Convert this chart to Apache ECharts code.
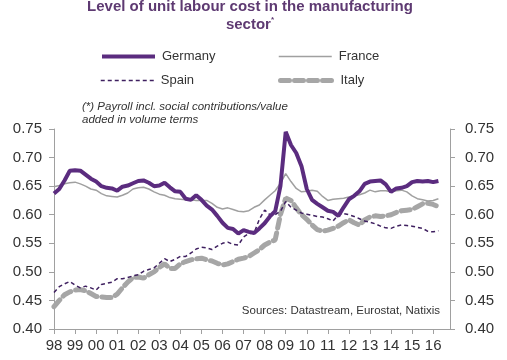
<!DOCTYPE html>
<html><head><meta charset="utf-8">
<script src="https://cdn.jsdelivr.net/npm/echarts@6/dist/echarts.min.js"></script>
<style>html,body{margin:0;padding:0;background:#fff}#c{width:507px;height:360px}</style>
</head><body><div id="c"></div>
<script>
// Quarterly observations, 1998Q1 .. 2016Q2 (decimal years)
const startYear = 1998;
const quarterCount = 74;
const quarters = [];
for (let i = 0; i < quarterCount; i++) quarters.push(startYear + i / 4);

const yearTicks = [1998,1999,2000,2001,2002,2003,2004,2005,2006,2007,2008,2009,2010,2011,2012,2013,2014,2015,2016];

const germany = [
0.637,0.645,0.660,0.677, 0.678,0.677,0.670,0.663, 0.658,0.650,0.647,0.646, 0.642,0.649,0.651,0.655,
0.659,0.660,0.656,0.650, 0.651,0.656,0.648,0.641, 0.640,0.628,0.626,0.634, 0.626,0.616,0.609,0.598,
0.586,0.577,0.575,0.567, 0.573,0.570,0.568,0.576, 0.585,0.597,0.606,0.650, 0.745,0.722,0.708,0.685,
0.645,0.626,0.619,0.613, 0.607,0.605,0.598,0.613, 0.627,0.633,0.641,0.654, 0.658,0.659,0.660,0.653,
0.640,0.646,0.647,0.650, 0.657,0.659,0.658,0.659, 0.657,0.659];
const france = [
0.649,0.651,0.654,0.656, 0.657,0.654,0.650,0.645, 0.643,0.637,0.633,0.632, 0.631,0.634,0.638,0.645,
0.647,0.648,0.645,0.640, 0.636,0.634,0.630,0.628, 0.627,0.626,0.626,0.625, 0.625,0.625,0.620,0.613,
0.610,0.612,0.609,0.606, 0.605,0.607,0.613,0.617, 0.626,0.634,0.642,0.655, 0.672,0.658,0.646,0.640,
0.641,0.643,0.641,0.632, 0.625,0.627,0.628,0.629, 0.631,0.633,0.635,0.638, 0.643,0.640,0.642,0.642,
0.640,0.642,0.643,0.640, 0.633,0.628,0.626,0.624, 0.625,0.628];
const spain = [
0.464,0.474,0.479,0.483, 0.477,0.472,0.475,0.472, 0.468,0.478,0.480,0.482, 0.488,0.488,0.490,0.493,
0.495,0.501,0.504,0.507, 0.515,0.523,0.518,0.522, 0.527,0.527,0.533,0.540, 0.543,0.542,0.539,0.545,
0.550,0.552,0.548,0.547, 0.561,0.567,0.568,0.592, 0.608,0.600,0.600,0.606, 0.623,0.613,0.608,0.603,
0.601,0.599,0.597,0.596, 0.593,0.589,0.600,0.602, 0.600,0.597,0.593,0.589, 0.587,0.584,0.580,0.577,
0.576,0.580,0.582,0.581, 0.580,0.578,0.576,0.571, 0.570,0.572];
const italy = [
0.439,0.450,0.460,0.465, 0.468,0.469,0.467,0.462, 0.457,0.456,0.455,0.455, 0.461,0.472,0.482,0.490,
0.491,0.489,0.495,0.500, 0.508,0.514,0.506,0.506, 0.514,0.518,0.521,0.523, 0.524,0.521,0.519,0.515,
0.512,0.514,0.518,0.522, 0.524,0.527,0.533,0.539, 0.547,0.552,0.556,0.600, 0.629,0.625,0.612,0.600,
0.592,0.582,0.574,0.571, 0.573,0.576,0.580,0.586, 0.591,0.586,0.582,0.591, 0.596,0.598,0.597,0.598,
0.600,0.604,0.607,0.608, 0.609,0.614,0.619,0.620, 0.618,0.614];

const pair = arr => arr.map((v, i) => [quarters[i], v]);
const FONT = 'Liberation Sans, Arial, sans-serif';

const C_GER = '#5b2c7f', C_FRA = '#a0a0a0', C_ESP = '#3f2060', C_ITA = '#a6a6a6';

const yAxisBase = {
  type: 'value', min: 0.40, max: 0.75, interval: 0.05,
  splitLine: { show: false },
  axisLine: { show: true, lineStyle: { color: '#a0a0a0', width: 1 } },
  axisTick: { show: true, length: 5, lineStyle: { color: '#a0a0a0' } },
  axisLabel: { fontSize: 15, color: '#333', fontFamily: FONT, formatter: v => v.toFixed(2) }
};

const legendBase = {
  orient: 'horizontal', itemWidth: 53, itemHeight: 10, itemGap: 0,
  textStyle: { fontSize: 13, color: '#333', fontFamily: FONT, padding: [0,0,0,2] },
  itemStyle: { opacity: 0 },
  selectedMode: false, padding: 0
};

const chart = echarts.init(document.getElementById('c'), null, { renderer: 'canvas' });
chart.setOption({
  animation: false,
  backgroundColor: '#fff',
  title: {
    text: 'Level of unit labour cost in the manufacturing\nsector{s|*}',
    left: 250, top: -2, textAlign: 'center', padding: 0,
    textStyle: {
      fontSize: 15, fontWeight: 'bold', color: '#5e3a72', fontFamily: FONT, lineHeight: 18,
      rich: { s: { fontSize: 8, fontWeight: 'bold', color: '#5e3a72', verticalAlign: 'top', lineHeight: 18 } }
    }
  },
  legend: [
    Object.assign({}, legendBase, { data: ['Germany'], left: 100, top: 50, lineStyle: { width: 4 } }),
    Object.assign({}, legendBase, { data: ['France'], left: 278, top: 50, lineStyle: { width: 1.5 } }),
    Object.assign({}, legendBase, { data: ['Spain'], left: 100, top: 74, lineStyle: { width: 1.5 } }),
    Object.assign({}, legendBase, { data: ['Italy'], left: 278, top: 74, lineStyle: { width: 5 } })
  ],
  graphic: [
    { type: 'text', left: 82, top: 100, style: {
      text: '(*) Payroll incl. social contributions/value\nadded in volume terms',
      fontSize: 11.5, fontStyle: 'italic', fill: '#333', fontFamily: FONT, lineHeight: 13 } },
    { type: 'text', right: 67, top: 305, style: {
      text: 'Sources: Datastream, Eurostat, Natixis',
      fontSize: 11.5, fill: '#333', fontFamily: FONT } }
  ],
  grid: { left: 54, right: 57, top: 129, bottom: 31, containLabel: false },
  xAxis: {
    type: 'value', min: 1998, max: 2016.8,
    splitLine: { show: false },
    axisLine: { show: true, lineStyle: { color: '#a0a0a0', width: 1 } },
    axisTick: { show: true, length: 5, lineStyle: { color: '#a0a0a0' }, customValues: yearTicks },
    axisLabel: { fontSize: 15, color: '#333', fontFamily: FONT, margin: 9,
      customValues: yearTicks, formatter: v => String(Math.round(v) % 100).padStart(2, '0') }
  },
  yAxis: [
    Object.assign({}, yAxisBase, { position: 'left', axisLabel: Object.assign({}, yAxisBase.axisLabel, { margin: 12 }) }),
    Object.assign({}, yAxisBase, { position: 'right', axisLabel: Object.assign({}, yAxisBase.axisLabel, { margin: 15 }) })
  ],
  series: [
    { name: 'Italy', type: 'line', data: pair(italy), symbol: 'none', z: 1, color: C_ITA,
      lineStyle: { color: C_ITA, width: 5, type: [9, 5], cap: 'round' } },
    { name: 'Spain', type: 'line', data: pair(spain), symbol: 'none', z: 2, color: C_ESP,
      lineStyle: { color: C_ESP, width: 1.5, type: [4, 3] } },
    { name: 'France', type: 'line', data: pair(france), symbol: 'none', z: 3, color: C_FRA,
      lineStyle: { color: C_FRA, width: 1.5 } },
    { name: 'Germany', type: 'line', data: pair(germany), symbol: 'none', z: 4, color: C_GER,
      lineStyle: { color: C_GER, width: 4 } }
  ]
});
</script></body></html>
